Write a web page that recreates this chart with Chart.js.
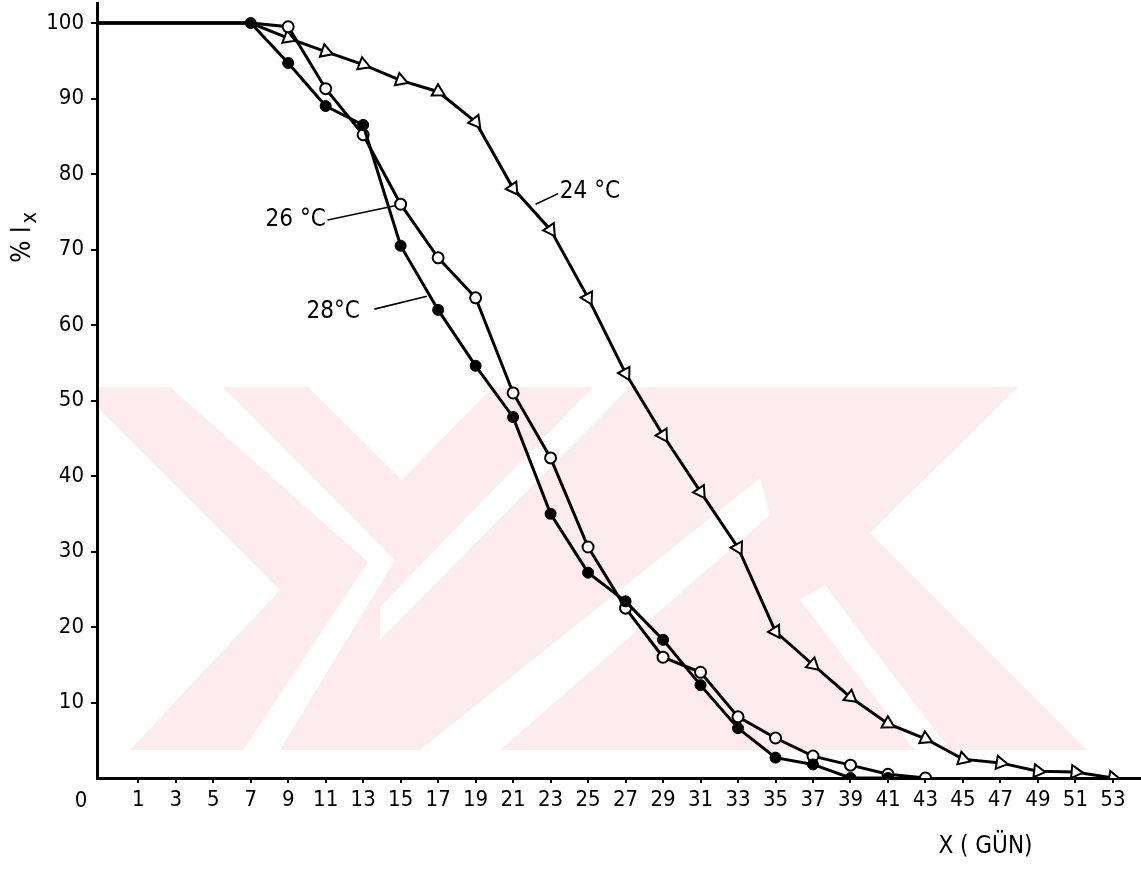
<!DOCTYPE html>
<html>
<head>
<meta charset="utf-8">
<script src="https://cdn.jsdelivr.net/npm/chart.js@4.4.1/dist/chart.umd.min.js"></script>
<style>
  html, body { margin: 0; padding: 0; background: #fff; }
  #wrap { width: 1141px; height: 869px; }
</style>
</head>
<body>
<div id="wrap"><canvas id="survChart"></canvas></div>
<script>
// x axis starts with a short break: "0" sits at the origin, then 1, 3, 5 ...
const X_ORIGIN = -1.2;
const xTicks = [1, 3, 5, 7, 9, 11, 13, 15, 17, 19, 21, 23, 25, 27, 29, 31, 33, 35, 37, 39, 41, 43, 45, 47, 49, 51, 53];
const yTicks = [10, 20, 30, 40, 50, 60, 70, 80, 90, 100];

// survival (% lx) by day
const days28 = [0, 7, 9, 11, 13, 15, 17, 19, 21, 23, 25, 27, 29, 31, 33, 35, 37, 39, 41];
const lx28 = [100, 100, 94.7, 89, 86.5, 70.5, 62, 54.6, 47.8, 35, 27.2, 23.4, 18.3, 12.3, 6.6, 2.7, 1.8, 0, 0];

const days26 = [0, 7, 9, 11, 13, 15, 17, 19, 21, 23, 25, 27, 29, 31, 33, 35, 37, 39, 41, 43];
const lx26 = [100, 100, 99.5, 91.3, 85.2, 76, 68.9, 63.6, 51, 42.4, 30.6, 22.5, 16, 14, 8.1, 5.3, 2.9, 1.7, 0.5, 0];

const days24 = [0, 7, 9, 11, 13, 15, 17, 19, 21, 23, 25, 27, 29, 31, 33, 35, 37, 39, 41, 43, 45, 47, 49, 51, 53];
const lx24 = [100, 100, 98, 96.2, 94.5, 92.4, 90.9, 86.9, 78.1, 72.6, 63.6, 53.6, 45.4, 37.9, 30.5, 19.4, 15, 10.7, 7.2, 5.2, 2.5, 2, 0.9, 0.8, 0];

const FONT = "'DejaVu Sans Condensed', 'Liberation Sans Narrow', 'DejaVu Sans', sans-serif";

function toPoints(days, vals) {
  return days.map((d, i) => ({ x: d === 0 ? X_ORIGIN : d, y: vals[i] }));
}

// first points of a series are just the shared 100% line, no marker
function hideFirst(n, r) {
  return ctx => ctx.dataIndex < n ? 0 : r;
}

// triangles follow the direction of the curve
function alongCurve(ctx) {
  const data = ctx.dataset.data;
  const i = ctx.dataIndex;
  const xs = ctx.chart.scales.x, ys = ctx.chart.scales.y;
  if (!xs || !ys) return 90;
  const a = data[Math.max(i - 1, 0)], b = data[Math.min(i + 1, data.length - 1)];
  const dx = xs.getPixelForValue(b.x) - xs.getPixelForValue(a.x);
  const dy = ys.getPixelForValue(b.y) - ys.getPixelForValue(a.y);
  return 90 + Math.atan2(dy, dx) * 180 / Math.PI;
}

const curveLabels = [
  { text: '26 °C', at: [9.4, 73.9], line: [[11.1, 73.9], [14.7, 75.8]] },
  { text: '28°C', at: [11.4, 61.7], line: [[13.6, 62.1], [16.4, 63.8]] },
  { text: '24 °C', at: [25.1, 77.6], line: [[22.2, 76.0], [23.4, 77.4]] }
];

// faint pink stamp printed behind the figure (page pixels)
const stampColor = '#fdecef';
const stampShape = [[77, 387], [1018, 387], [870, 533], [1087, 750], [130, 750], [280, 590]];
const stampGaps = [
  [[170, 387], [223, 387], [395, 560], [280, 750], [243, 750], [368, 562]],
  [[308, 387], [493, 387], [402, 480]],
  [[380, 607], [380, 640], [630, 387], [593, 387]],
  [[420, 750], [500, 750], [770, 515], [760, 478]],
  [[800, 600], [825, 585], [950, 750], [915, 750]]
];

function fillPoly(ctx, pts) {
  ctx.beginPath();
  pts.forEach((p, i) => i ? ctx.lineTo(p[0], p[1]) : ctx.moveTo(p[0], p[1]));
  ctx.closePath();
  ctx.fill();
}

const stampPlugin = {
  id: 'stamp',
  beforeDatasetsDraw(chart) {
    const { ctx, chartArea } = chart;
    ctx.save();
    ctx.beginPath();
    ctx.rect(chartArea.left + 2, 0, chart.width, chartArea.bottom - 2);
    ctx.clip();
    ctx.fillStyle = stampColor;
    fillPoly(ctx, stampShape);
    ctx.fillStyle = '#fff';
    stampGaps.forEach(g => fillPoly(ctx, g));
    ctx.restore();
  }
};

const textPlugin = {
  id: 'figureText',
  afterDatasetsDraw(chart) {
    const { ctx, chartArea } = chart;
    const xs = chart.scales.x, ys = chart.scales.y;
    ctx.save();
    ctx.fillStyle = '#000';
    ctx.strokeStyle = '#000';
    ctx.textAlign = 'center';
    ctx.textBaseline = 'middle';

    ctx.font = '24px ' + FONT;
    ctx.lineWidth = 1.6;
    curveLabels.forEach(l => {
      ctx.fillText(l.text, xs.getPixelForValue(l.at[0]), ys.getPixelForValue(l.at[1]));
      ctx.beginPath();
      ctx.moveTo(xs.getPixelForValue(l.line[0][0]), ys.getPixelForValue(l.line[0][1]));
      ctx.lineTo(xs.getPixelForValue(l.line[1][0]), ys.getPixelForValue(l.line[1][1]));
      ctx.stroke();
    });

    // origin label
    ctx.font = '22px ' + FONT;
    ctx.fillText('0', chartArea.left - 16, chartArea.bottom + 23);

    // x title
    ctx.font = '24px ' + FONT;
    ctx.fillText('X ( GÜN)', xs.getPixelForValue(46.2), chartArea.bottom + 69);

    // y title: % l with subscript x, turned upward
    ctx.translate(chartArea.left - 74, ys.getPixelForValue(72.5));
    ctx.rotate(-Math.PI / 2);
    ctx.textAlign = 'left';
    ctx.font = '26px ' + FONT;
    ctx.fillText('% l', -32, 0);
    const w = ctx.measureText('% l').width;
    ctx.font = '22px ' + FONT;
    ctx.fillText('x', -32 + w + 3, 7);
    ctx.restore();
  }
};

const axisLine = { color: '#000', width: 3 };

// keep the plot box exactly where the figure has it
function noEdgePadding(scale) {
  scale.paddingTop = 0;
  scale.paddingBottom = 0;
  scale.paddingLeft = 0;
  scale.paddingRight = 0;
}

new Chart(document.getElementById('survChart'), {
  type: 'scatter',
  data: {
    datasets: [
      {
        label: '28°C',
        data: toPoints(days28, lx28),
        showLine: true,
        borderColor: '#000',
        borderWidth: 3,
        pointStyle: 'circle',
        pointRadius: hideFirst(1, 5.5),
        pointBackgroundColor: '#000',
        pointBorderColor: '#000',
        pointBorderWidth: 1
      },
      {
        label: '26°C',
        data: toPoints(days26, lx26),
        showLine: true,
        borderColor: '#000',
        borderWidth: 3,
        pointStyle: 'circle',
        pointRadius: hideFirst(2, 5.5),
        pointBackgroundColor: '#fff',
        pointBorderColor: '#000',
        pointBorderWidth: 2
      },
      {
        label: '24°C',
        data: toPoints(days24, lx24),
        showLine: true,
        borderColor: '#000',
        borderWidth: 3,
        pointStyle: 'triangle',
        pointRadius: hideFirst(2, 7.5),
        pointRotation: alongCurve,
        pointBackgroundColor: '#fff',
        pointBorderColor: '#000',
        pointBorderWidth: 2
      }
    ]
  },
  options: {
    responsive: true,
    maintainAspectRatio: false,
    animation: false,
    layout: { autoPadding: false, padding: { top: 3, right: 0, left: 0, bottom: 0 } },
    plugins: {
      legend: { display: false },
      tooltip: { enabled: false }
    },
    scales: {
      x: {
        type: 'linear',
        min: X_ORIGIN,
        max: 54.5,
        border: axisLine,
        grid: { drawOnChartArea: false, drawTicks: true, tickLength: 5, color: '#000', lineWidth: 2 },
        afterBuildTicks: scale => { scale.ticks = xTicks.map(v => ({ value: v })); },
        afterFit: scale => { scale.height = 91; noEdgePadding(scale); },
        ticks: {
          color: '#000',
          padding: 4,
          maxRotation: 0,
          autoSkip: false,
          font: { family: FONT, size: 22 }
        }
      },
      y: {
        min: 0,
        max: 102.65,
        border: axisLine,
        grid: { drawOnChartArea: false, drawTicks: true, tickLength: 6, color: '#000', lineWidth: 2 },
        afterBuildTicks: scale => { scale.ticks = yTicks.map(v => ({ value: v })); },
        afterFit: scale => { scale.width = 97; noEdgePadding(scale); },
        ticks: {
          color: '#000',
          padding: 7,
          font: { family: FONT, size: 22 }
        }
      }
    }
  },
  plugins: [stampPlugin, textPlugin]
});
</script>
</body>
</html>
